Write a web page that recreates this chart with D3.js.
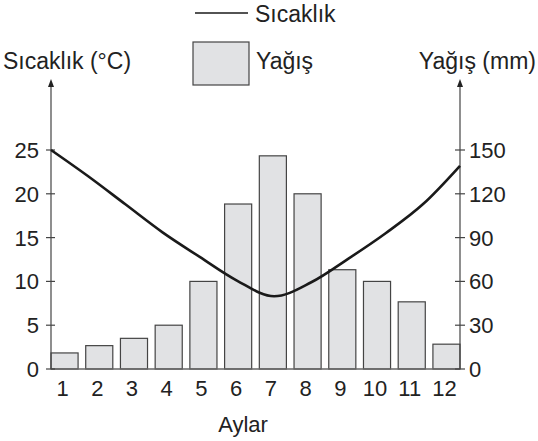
<!DOCTYPE html>
<html>
<head>
<meta charset="utf-8">
<script src="https://cdn.jsdelivr.net/npm/d3@7"></script>
<style>
  body { margin: 0; background: #fff; }
  text { font-family: "Liberation Sans", Arial, sans-serif; fill: #222; }
</style>
</head>
<body>
<div id="chart"></div>
<script>
var months = [1, 2, 3, 4, 5, 6, 7, 8, 9, 10, 11, 12];
var sicaklik = [25, 22, 18.8, 15.6, 12.8, 10.1, 8.3, 9.9, 12.6, 15.5, 18.8, 23.2];
var yagis = [11, 16, 21, 30, 60, 113, 146, 120, 68, 60, 46, 17];
var tempTicks = [0, 5, 10, 15, 20, 25];
var rainTicks = [0, 30, 60, 90, 120, 150];

var W = 538, H = 441;
var x0 = 51, x1 = 460, yBase = 369, yTop = 150;

var svg = d3.select("#chart").append("svg")
    .attr("width", W)
    .attr("height", H);

var xBand = d3.scaleBand().domain(months).range([x0, x1]).paddingInner(0.22).paddingOuter(0);
var xLine = d3.scaleLinear().domain([1, 12]).range([x0, x1]);
var yTemp = d3.scaleLinear().domain([0, 25]).range([yBase, yTop]);
var yRain = d3.scaleLinear().domain([0, 150]).range([yBase, yTop]);

// bars
svg.append("g").selectAll("rect")
    .data(yagis)
    .enter().append("rect")
    .attr("x", function(d, i) { return xBand(months[i]); })
    .attr("y", function(d) { return yRain(d); })
    .attr("width", xBand.bandwidth())
    .attr("height", function(d) { return yBase - yRain(d); })
    .attr("fill", "#e1e2e4")
    .attr("stroke", "#444")
    .attr("stroke-width", 1.2);

// baseline
svg.append("line")
    .attr("x1", x0).attr("x2", x1)
    .attr("y1", yBase).attr("y2", yBase)
    .attr("stroke", "#666").attr("stroke-width", 1.5);

// vertical axes with arrows
var tipY = 79;
[x0, x1].forEach(function(xx) {
    svg.append("line")
        .attr("x1", xx).attr("x2", xx)
        .attr("y1", yBase).attr("y2", tipY + 3)
        .attr("stroke", "#444").attr("stroke-width", 1.2);
    svg.append("path")
        .attr("d", "M" + xx + "," + tipY + " L" + (xx - 3) + "," + (tipY + 8) + " L" + (xx + 3) + "," + (tipY + 8) + " Z")
        .attr("fill", "#222");
});

// left ticks
var gL = svg.append("g");
gL.selectAll("line").data(tempTicks).enter().append("line")
    .attr("x1", x0 - 5).attr("x2", x0 + 4)
    .attr("y1", function(d) { return yTemp(d); })
    .attr("y2", function(d) { return yTemp(d); })
    .attr("stroke", "#444").attr("stroke-width", 1.2);
gL.selectAll("text").data(tempTicks).enter().append("text")
    .attr("x", x0 - 12)
    .attr("y", function(d) { return yTemp(d); })
    .attr("dy", "0.36em")
    .attr("text-anchor", "end")
    .style("font-size", "22px")
    .text(function(d) { return d; });

// right ticks
var gR = svg.append("g");
gR.selectAll("line").data(rainTicks).enter().append("line")
    .attr("x1", x1 - 5).attr("x2", x1 + 5)
    .attr("y1", function(d) { return yRain(d); })
    .attr("y2", function(d) { return yRain(d); })
    .attr("stroke", "#444").attr("stroke-width", 1.2);
gR.selectAll("text").data(rainTicks).enter().append("text")
    .attr("x", x1 + 9)
    .attr("y", function(d) { return yRain(d); })
    .attr("dy", "0.36em")
    .attr("text-anchor", "start")
    .style("font-size", "22px")
    .text(function(d) { return d; });

// month labels
svg.append("g").selectAll("text").data(months).enter().append("text")
    .attr("x", function(d) { return xBand(d) + xBand.bandwidth() / 2 - 2; })
    .attr("y", 396)
    .attr("text-anchor", "middle")
    .style("font-size", "22px")
    .text(function(d) { return d; });

svg.append("text")
    .attr("x", 243).attr("y", 432)
    .attr("text-anchor", "middle")
    .style("font-size", "22px")
    .text("Aylar");

// temperature line
var line = d3.line()
    .x(function(d, i) { return xLine(months[i]); })
    .y(function(d) { return yTemp(d); })
    .curve(d3.curveMonotoneX);

svg.append("path")
    .datum(sicaklik)
    .attr("fill", "none")
    .attr("stroke", "#1a1a1a")
    .attr("stroke-width", 2.6)
    .attr("d", line);

// axis titles
svg.append("text")
    .attr("x", 3).attr("y", 69)
    .style("font-size", "23px")
    .text("Sıcaklık (°C)");
svg.append("text")
    .attr("x", 536).attr("y", 69)
    .attr("text-anchor", "end")
    .style("font-size", "23px")
    .text("Yağış (mm)");

// legend
svg.append("line")
    .attr("x1", 195).attr("x2", 248)
    .attr("y1", 13).attr("y2", 13)
    .attr("stroke", "#1a1a1a").attr("stroke-width", 1.3);
svg.append("text")
    .attr("x", 255).attr("y", 22)
    .style("font-size", "23px")
    .text("Sıcaklık");
svg.append("rect")
    .attr("x", 193).attr("y", 42)
    .attr("width", 56).attr("height", 43)
    .attr("fill", "#e1e2e4")
    .attr("stroke", "#444").attr("stroke-width", 1.2);
svg.append("text")
    .attr("x", 256).attr("y", 69)
    .style("font-size", "23px")
    .text("Yağış");
</script>
</body>
</html>
